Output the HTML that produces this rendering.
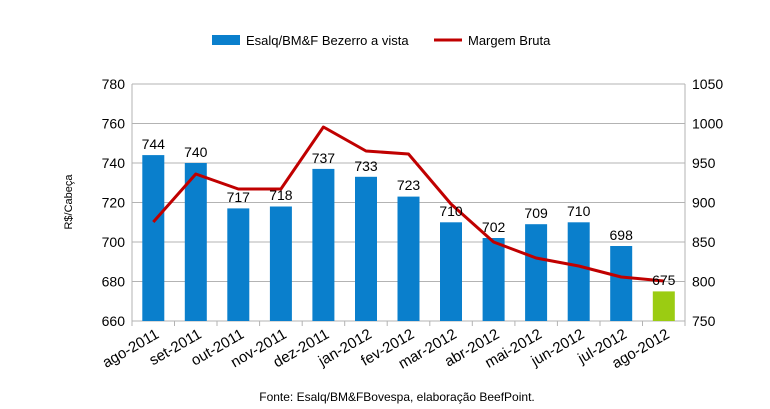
<!DOCTYPE html><html><head><style>body{margin:0;background:#fff}svg{display:block;font-family:"Liberation Sans",sans-serif}</style></head><body>
<svg width="770" height="409" viewBox="0 0 770 409">
<g stroke="#b3b3b3" stroke-width="1">
<line x1="132" x2="685" y1="84" y2="84"/><line x1="132" x2="685" y1="123.5" y2="123.5"/><line x1="132" x2="685" y1="163" y2="163"/><line x1="132" x2="685" y1="202.5" y2="202.5"/><line x1="132" x2="685" y1="242" y2="242"/><line x1="132" x2="685" y1="281.5" y2="281.5"/><line x1="132" x2="685" y1="321" y2="321"/>
<line x1="132" x2="132" y1="84" y2="326"/><line x1="685" x2="685" y1="84" y2="321"/>
<line x1="174.5" x2="174.5" y1="321" y2="326"/><line x1="217" x2="217" y1="321" y2="326"/><line x1="259.6" x2="259.6" y1="321" y2="326"/><line x1="302.2" x2="302.2" y1="321" y2="326"/><line x1="344.7" x2="344.7" y1="321" y2="326"/><line x1="387.2" x2="387.2" y1="321" y2="326"/><line x1="429.8" x2="429.8" y1="321" y2="326"/><line x1="472.3" x2="472.3" y1="321" y2="326"/><line x1="514.9" x2="514.9" y1="321" y2="326"/><line x1="557.4" x2="557.4" y1="321" y2="326"/><line x1="600" x2="600" y1="321" y2="326"/><line x1="642.5" x2="642.5" y1="321" y2="326"/><line x1="685" x2="685" y1="321" y2="326"/>
</g>
<g fill="#0a7fcc">
<rect x="142.3" y="155.1" width="22" height="165.9"/><rect x="184.8" y="163" width="22" height="158"/><rect x="227.3" y="208.4" width="22" height="112.6"/><rect x="269.9" y="206.5" width="22" height="114.5"/><rect x="312.4" y="168.9" width="22" height="152.1"/><rect x="355" y="176.8" width="22" height="144.2"/><rect x="397.5" y="196.6" width="22" height="124.4"/><rect x="440" y="222.3" width="22" height="98.7"/><rect x="482.6" y="238" width="22" height="83"/><rect x="525.1" y="224.2" width="22" height="96.8"/><rect x="567.7" y="222.3" width="22" height="98.7"/><rect x="610.2" y="246" width="22" height="75"/>
</g>
<rect x="652.8" y="291.4" width="22" height="29.6" fill="#9bcc12"/>
<polyline fill="none" stroke="#c00000" stroke-width="3" stroke-linejoin="round" points="153.3,222 195.8,174 238.3,189 280.9,189 323.4,127 366,151 408.5,154 451,204 493.6,242 536.1,258 578.7,266 621.2,277 663.8,281"/>
<g font-size="14" fill="#000" text-anchor="middle">
<text x="153.3" y="149">744</text><text x="195.8" y="157">740</text><text x="238.3" y="202">717</text><text x="280.9" y="200">718</text><text x="323.4" y="163">737</text><text x="366" y="171">733</text><text x="408.5" y="190">723</text><text x="451" y="216">710</text><text x="493.6" y="232">702</text><text x="536.1" y="218">709</text><text x="578.7" y="216">710</text><text x="621.2" y="240">698</text><text x="663.8" y="285">675</text>
</g>
<g font-size="14" text-anchor="end">
<text x="125" y="89">780</text><text x="125" y="128.5">760</text><text x="125" y="168">740</text><text x="125" y="207.5">720</text><text x="125" y="247">700</text><text x="125" y="286.5">680</text><text x="125" y="326">660</text>
</g>
<g font-size="14" text-anchor="start">
<text x="692" y="89">1050</text><text x="692" y="128.5">1000</text><text x="692" y="168">950</text><text x="692" y="207.5">900</text><text x="692" y="247">850</text><text x="692" y="286.5">800</text><text x="692" y="326">750</text>
</g>
<g font-size="15" text-anchor="end">
<text transform="translate(160,337) rotate(-30)">ago-2011</text><text transform="translate(202.5,337) rotate(-30)">set-2011</text><text transform="translate(245,337) rotate(-30)">out-2011</text><text transform="translate(287.6,337) rotate(-30)">nov-2011</text><text transform="translate(330.1,337) rotate(-30)">dez-2011</text><text transform="translate(372.7,337) rotate(-30)">jan-2012</text><text transform="translate(415.2,337) rotate(-30)">fev-2012</text><text transform="translate(457.7,337) rotate(-30)">mar-2012</text><text transform="translate(500.3,337) rotate(-30)">abr-2012</text><text transform="translate(542.8,337) rotate(-30)">mai-2012</text><text transform="translate(585.4,337) rotate(-30)">jun-2012</text><text transform="translate(627.9,337) rotate(-30)">jul-2012</text><text transform="translate(670.5,337) rotate(-30)">ago-2012</text>
</g>
<text transform="translate(72,202) rotate(-90)" font-size="11" text-anchor="middle">R$/Cabeça</text>
<rect x="212" y="35" width="28" height="10" fill="#0a7fcc"/>
<text x="246" y="45" font-size="13">Esalq/BM&amp;F Bezerro a vista</text>
<line x1="434" x2="462" y1="40" y2="40" stroke="#c00000" stroke-width="3"/>
<text x="468" y="45" font-size="13">Margem Bruta</text>
<text x="397" y="401" font-size="12" text-anchor="middle">Fonte: Esalq/BM&amp;FBovespa, elaboração BeefPoint.</text>
</svg></body></html>
